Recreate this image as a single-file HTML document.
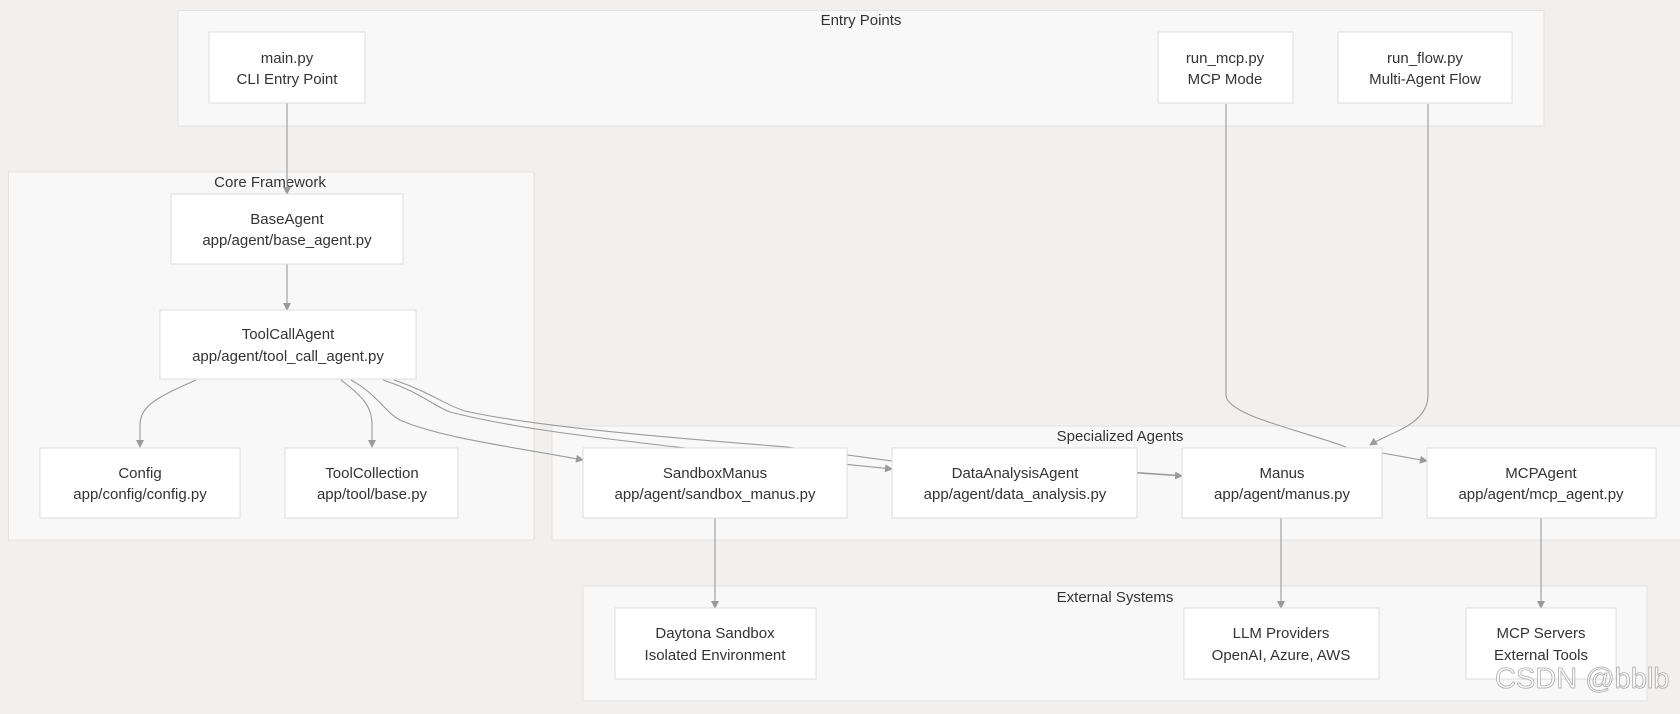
<!DOCTYPE html>
<html><head><meta charset="utf-8"><style>
html,body{margin:0;padding:0;background:#f1f0ef;}
svg{display:block;}
text{font-family:"Liberation Sans",sans-serif;font-size:15px;fill:#333;}
.c{fill:#f8f8f8;stroke:#e2e2e2;stroke-width:1;}
.n{fill:#fff;stroke:#dcdcdc;stroke-width:1;}
.e{fill:none;stroke:#9a9a9a;stroke-width:1.1;}
</style></head><body>
<svg width="1680" height="714" viewBox="0 0 1680 714">
<defs><marker id="a" markerWidth="8" markerHeight="8" refX="7" refY="4" orient="auto" markerUnits="userSpaceOnUse"><path d="M0,0 L8,4 L0,8 z" fill="#9a9a9a"/></marker></defs>
<rect class="c" x="178" y="10.5" width="1366" height="115.5"/>
<text x="861" y="25" text-anchor="middle">Entry Points</text>
<rect class="c" x="8.5" y="172" width="525.5" height="368"/>
<text x="270" y="187" text-anchor="middle">Core Framework</text>
<rect class="c" x="552" y="426" width="1140" height="114"/>
<text x="1120" y="441" text-anchor="middle">Specialized Agents</text>
<rect class="c" x="583" y="586" width="1064" height="115"/>
<text x="1115" y="602" text-anchor="middle">External Systems</text>
<path class="e" d="M287 103 L287 194" marker-end="url(#a)"/>
<path class="e" d="M287 264 L287 310" marker-end="url(#a)"/>
<path class="e" d="M196 380 C160 396,140 405,140 425 L140 447" marker-end="url(#a)"/>
<path class="e" d="M341 380 C365 398,372 408,372 425 L372 447" marker-end="url(#a)"/>
<path class="e" d="M351 380 C378 395,385 412,400 420 C440 438,520 448,583 460" marker-end="url(#a)"/>
<path class="e" d="M383 380 C420 392,432 405,450 412 C520 430,620 440,667 446 L892 469" marker-end="url(#a)"/>
<path class="e" d="M394 380 C430 392,445 405,465 411 C540 428,700 440,787 447 L900 462 L1130 472 L1190 476 L1382 453 L1427 461" marker-end="url(#a)"/>
<path class="e" d="M1226 104 L1226 395 C1226 415,1300 430,1346 447"/>
<path class="e" d="M1428 104 L1428 395 C1428 425,1390 432,1370 445" marker-end="url(#a)"/>
<path class="e" d="M1137 473 L1182 476" marker-end="url(#a)"/>
<path class="e" d="M715 518 L715 608" marker-end="url(#a)"/>
<path class="e" d="M1281 518 L1281 608" marker-end="url(#a)"/>
<path class="e" d="M1541 518 L1541 608" marker-end="url(#a)"/>
<rect class="n" x="209" y="32" width="156" height="71"/>
<text x="287" y="63" text-anchor="middle">main.py</text><text x="287" y="84" text-anchor="middle">CLI Entry Point</text>
<rect class="n" x="1158" y="32" width="135" height="71"/>
<text x="1225" y="63" text-anchor="middle">run_mcp.py</text><text x="1225" y="84" text-anchor="middle">MCP Mode</text>
<rect class="n" x="1338" y="32" width="174" height="71"/>
<text x="1425" y="63" text-anchor="middle">run_flow.py</text><text x="1425" y="84" text-anchor="middle">Multi-Agent Flow</text>
<rect class="n" x="171" y="194" width="232" height="70"/>
<text x="287" y="224" text-anchor="middle">BaseAgent</text><text x="287" y="245" text-anchor="middle">app/agent/base_agent.py</text>
<rect class="n" x="160" y="310" width="256" height="69"/>
<text x="288" y="339" text-anchor="middle">ToolCallAgent</text><text x="288" y="361" text-anchor="middle">app/agent/tool_call_agent.py</text>
<rect class="n" x="40" y="448" width="200" height="70"/>
<text x="140" y="478" text-anchor="middle">Config</text><text x="140" y="499" text-anchor="middle">app/config/config.py</text>
<rect class="n" x="285" y="448" width="173" height="70"/>
<text x="372" y="478" text-anchor="middle">ToolCollection</text><text x="372" y="499" text-anchor="middle">app/tool/base.py</text>
<rect class="n" x="583" y="448" width="264" height="70"/>
<text x="715" y="478" text-anchor="middle">SandboxManus</text><text x="715" y="499" text-anchor="middle">app/agent/sandbox_manus.py</text>
<rect class="n" x="892" y="448" width="245" height="70"/>
<text x="1015" y="478" text-anchor="middle">DataAnalysisAgent</text><text x="1015" y="499" text-anchor="middle">app/agent/data_analysis.py</text>
<rect class="n" x="1182" y="448" width="200" height="70"/>
<text x="1282" y="478" text-anchor="middle">Manus</text><text x="1282" y="499" text-anchor="middle">app/agent/manus.py</text>
<rect class="n" x="1427" y="448" width="229" height="70"/>
<text x="1541" y="478" text-anchor="middle">MCPAgent</text><text x="1541" y="499" text-anchor="middle">app/agent/mcp_agent.py</text>
<rect class="n" x="615" y="608" width="201" height="71"/>
<text x="715" y="638" text-anchor="middle">Daytona Sandbox</text><text x="715" y="660" text-anchor="middle">Isolated Environment</text>
<rect class="n" x="1184" y="608" width="195" height="71"/>
<text x="1281" y="638" text-anchor="middle">LLM Providers</text><text x="1281" y="660" text-anchor="middle">OpenAI, Azure, AWS</text>
<rect class="n" x="1466" y="608" width="150" height="71"/>
<text x="1541" y="638" text-anchor="middle">MCP Servers</text><text x="1541" y="660" text-anchor="middle">External Tools</text>
<text x="1495" y="688" style="font-size:29px;fill:#fff;stroke:#aaa;stroke-width:0.8;fill-opacity:0.8">CSDN @bblb</text>
</svg>
</body></html>
